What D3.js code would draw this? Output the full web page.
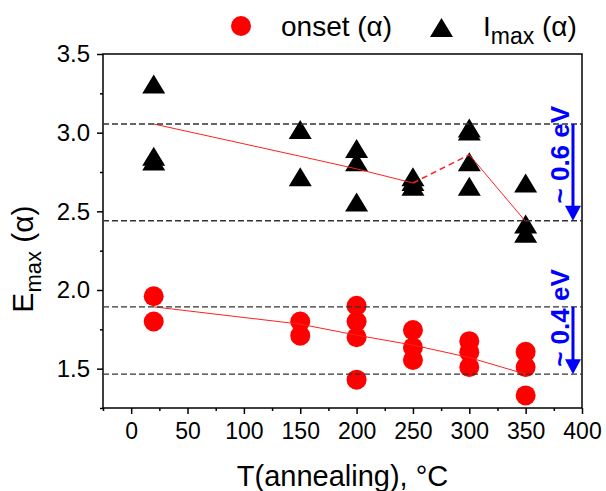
<!DOCTYPE html>
<html>
<head>
<meta charset="utf-8">
<script src="https://cdn.jsdelivr.net/npm/d3@7"></script>
<style>
  body { margin: 0; background: #fff; }
  text { font-family: "Liberation Sans", Arial, sans-serif; }
</style>
</head>
<body>
<div id="chart"></div>
<script>
// onset (alpha) points
const onsetT = [20, 20, 150, 150, 200, 200, 200, 200, 250, 250, 250, 300, 300, 300, 350, 350, 350];
const onsetE = [1.96, 1.80, 1.80, 1.71, 1.90, 1.80, 1.70, 1.43, 1.745, 1.635, 1.555, 1.675, 1.605, 1.51, 1.607, 1.51, 1.33];

// Imax (alpha) points
const imaxT = [20, 20, 20, 150, 150, 200, 200, 200, 250, 250, 250, 300, 300, 300, 300, 350, 350, 350];
const imaxE = [3.31, 2.85, 2.82, 3.02, 2.72, 2.90, 2.815, 2.56, 2.72, 2.69, 2.66, 3.03, 3.01, 2.815, 2.66, 2.68, 2.42, 2.36];

// guide lines
const onsetTrend = [[20, 1.893], [150, 1.783], [200, 1.713], [250, 1.65], [300, 1.571], [350, 1.465]];
const imaxTrendA = [[20, 3.055], [150, 2.85], [200, 2.77], [250, 2.68]];
const imaxTrendDash = [[250, 2.68], [300, 2.86]];
const imaxTrendB = [[300, 2.86], [350, 2.435]];
const levels = [3.055, 2.44, 1.893, 1.465];
const arrows = [
  { t: 392, from: 3.055, to: 2.44, labelAt: 2.86, label: "~ 0.6 eV" },
  { t: 392, from: 1.893, to: 1.465, labelAt: 1.822, label: "~ 0.4 eV" }
];

const xMajor = [0, 50, 100, 150, 200, 250, 300, 350, 400];
const xMinor = [-25, 25, 75, 125, 175, 225, 275, 325, 375];
const yMajor = [1.5, 2.0, 2.5, 3.0, 3.5];
const yMinor = [1.25, 1.75, 2.25, 2.75, 3.25];

const width = 606, height = 491;
const margin = { left: 103, right: 24, top: 54, bottom: 83 };

const x = d3.scaleLinear().domain([-25, 400]).range([margin.left, width - margin.right]);
const y = d3.scaleLinear().domain([1.25, 3.5]).range([height - margin.bottom, margin.top]);

const svg = d3.select("#chart")
  .append("svg")
  .attr("width", width)
  .attr("height", height);

const triPath = (cx, cy) => {
  const w = 11.5, h = 19;
  return `M${cx},${cy - h / 2}L${cx + w},${cy + h / 2}L${cx - w},${cy + h / 2}Z`;
};

// frame
svg.append("rect")
  .attr("x", x(-25)).attr("y", y(3.5))
  .attr("width", x(400) - x(-25)).attr("height", y(1.25) - y(3.5))
  .attr("fill", "none").attr("stroke", "#000").attr("stroke-width", 1.5);

// axes
const xAxis = svg.append("g").attr("transform", `translate(0,${y(1.25)})`);
xAxis.call(d3.axisBottom(x).tickValues(xMajor).tickSize(6).tickFormat(d3.format("d")));
xAxis.append("g").call(d3.axisBottom(x).tickValues(xMinor).tickSize(3).tickFormat(""));
xAxis.selectAll(".domain").remove();
xAxis.selectAll("line").attr("stroke-width", 1.5);
xAxis.selectAll("text")
  .attr("y", 31)
  .attr("dy", 0)
  .style("font-size", "23px")
  .attr("fill", "#000");

const yAxis = svg.append("g").attr("transform", `translate(${x(-25)},0)`);
yAxis.call(d3.axisLeft(y).tickValues(yMajor).tickSize(6).tickFormat(d3.format(".1f")));
yAxis.append("g").call(d3.axisLeft(y).tickValues(yMinor).tickSize(3).tickFormat(""));
yAxis.selectAll(".domain").remove();
yAxis.selectAll("line").attr("stroke-width", 1.5);
yAxis.selectAll("text")
  .attr("x", -13)
  .style("font-size", "24px")
  .attr("fill", "#000");

// axis titles
svg.append("text")
  .attr("x", (x(-25) + x(400)) / 2)
  .attr("y", 486)
  .attr("text-anchor", "middle")
  .style("font-size", "29px")
  .text("T(annealing), °C");

const yTitle = svg.append("text")
  .attr("transform", "translate(33,259) rotate(-90)")
  .attr("text-anchor", "middle")
  .style("font-size", "30px");
yTitle.append("tspan").text("E");
yTitle.append("tspan").attr("dy", 8).style("font-size", "22px").text("max");
yTitle.append("tspan").attr("dy", -8).text(" (α)");

// symbols
svg.selectAll(".onset")
  .data(onsetT.map((t, i) => ({ t, e: onsetE[i] })))
  .enter()
  .append("circle")
  .attr("class", "onset")
  .attr("cx", d => x(d.t))
  .attr("cy", d => y(d.e))
  .attr("r", 10)
  .attr("fill", "#ff0000");

svg.selectAll(".imax")
  .data(imaxT.map((t, i) => ({ t, e: imaxE[i] })))
  .enter()
  .append("path")
  .attr("class", "imax")
  .attr("d", d => triPath(x(d.t), y(d.e)))
  .attr("fill", "#000");

// red trend lines
const line = d3.line().x(d => x(d[0])).y(d => y(d[1]));
[onsetTrend, imaxTrendA, imaxTrendB].forEach(pts => {
  svg.append("path")
    .attr("d", line(pts))
    .attr("fill", "none")
    .attr("stroke", "#ff2020")
    .attr("stroke-width", 1);
});
svg.append("path")
  .attr("d", line(imaxTrendDash))
  .attr("fill", "none")
  .attr("stroke", "#ff2020")
  .attr("stroke-width", 1.5)
  .attr("stroke-dasharray", "6,4");

// dashed levels
svg.selectAll(".level")
  .data(levels)
  .enter()
  .append("line")
  .attr("class", "level")
  .attr("x1", x(-25)).attr("x2", x(400))
  .attr("y1", d => y(d)).attr("y2", d => y(d))
  .attr("stroke", "#333")
  .attr("stroke-width", 1.3)
  .attr("stroke-dasharray", "6,3");

// blue arrows
arrows.forEach(a => {
  const ax = x(a.t);
  svg.append("line")
    .attr("x1", ax).attr("x2", ax)
    .attr("y1", y(a.from)).attr("y2", y(a.to) - 14)
    .attr("stroke", "#0000ff").attr("stroke-width", 3);
  svg.append("path")
    .attr("d", `M${ax - 8},${y(a.to) - 15}L${ax + 8},${y(a.to) - 15}L${ax},${y(a.to)}Z`)
    .attr("fill", "#0000ff");
  svg.append("text")
    .attr("transform", `translate(${ax - 4},${y(a.labelAt)}) rotate(-90)`)
    .attr("text-anchor", "middle")
    .attr("fill", "#0000ff")
    .style("font-size", "26px")
    .style("font-weight", "bold")
    .text(a.label);
});

// legend
svg.append("circle").attr("cx", 241).attr("cy", 26).attr("r", 10).attr("fill", "#ff0000");
svg.append("text").attr("x", 281).attr("y", 36).style("font-size", "28px").text("onset (α)");
svg.append("path").attr("d", triPath(441.5, 27.5)).attr("fill", "#000");
const legI = svg.append("text").attr("x", 483).attr("y", 36).style("font-size", "28px");
legI.append("tspan").text("I");
legI.append("tspan").attr("dy", 8).style("font-size", "23px").text("max");
legI.append("tspan").attr("dy", -8).text(" (α)");
</script>
</body>
</html>
